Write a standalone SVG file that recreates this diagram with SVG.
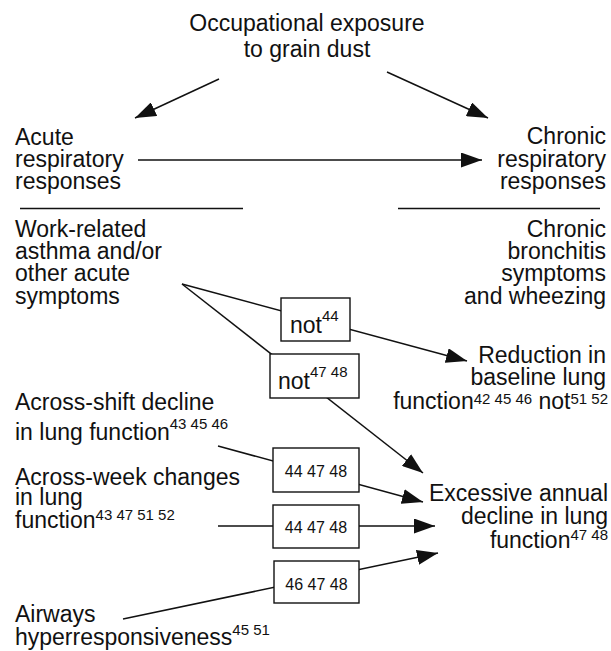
<svg xmlns="http://www.w3.org/2000/svg" width="611" height="651" viewBox="0 0 611 651">
<style>
text{font-family:"Liberation Sans",Arial,sans-serif;font-size:23px;fill:#111}
.r{text-anchor:end}
.c{text-anchor:middle}
.s{font-size:15px}
.n{font-size:16px}
.ln{stroke:#111;stroke-width:1.5;fill:none}
.bx{fill:#fff;stroke:#111;stroke-width:1.4}
.sep{stroke:#111;stroke-width:1.3}
</style>
<defs>
<marker id="ah" markerUnits="userSpaceOnUse" markerWidth="21" markerHeight="15" refX="21" refY="7.5" orient="auto">
<path d="M0,0 L21,7.5 L0,15 z" fill="#111"/>
</marker>
</defs>
<g id="connectors">
<line class="ln" x1="219" y1="79" x2="135" y2="118" marker-end="url(#ah)"/>
<line class="ln" x1="387" y1="72" x2="488" y2="118" marker-end="url(#ah)"/>
<line class="ln" x1="138" y1="160" x2="482" y2="160" marker-end="url(#ah)"/>
<line class="sep" x1="20" y1="208.5" x2="243" y2="208.5"/>
<line class="sep" x1="398" y1="208.5" x2="600" y2="208.5"/>
<line class="ln" x1="182" y1="284" x2="467" y2="361" marker-end="url(#ah)"/>
<line class="ln" x1="182" y1="284" x2="423" y2="473" marker-end="url(#ah)"/>
<line class="ln" x1="218" y1="446" x2="423" y2="502" marker-end="url(#ah)"/>
<line class="ln" x1="218" y1="526" x2="435" y2="526" marker-end="url(#ah)"/>
<line class="ln" x1="123" y1="619" x2="438" y2="553" marker-end="url(#ah)"/>
</g>
<g id="exposure">
<text class="c" x="307" y="31">Occupational exposure</text>
<text class="c" x="307" y="57">to grain dust</text>
</g>
<g id="acute">
<text x="15" y="145">Acute</text>
<text x="15" y="167">respiratory</text>
<text x="15" y="189">responses</text>
</g>
<g id="chronic">
<text class="r" x="606" y="144">Chronic</text>
<text class="r" x="606" y="166.5">respiratory</text>
<text class="r" x="606" y="189">responses</text>
</g>
<g id="work-related">
<text x="15" y="237">Work-related</text>
<text x="15" y="259">asthma and/or</text>
<text x="15" y="281">other acute</text>
<text x="15" y="303.5">symptoms</text>
</g>
<g id="bronchitis">
<text class="r" x="606" y="237">Chronic</text>
<text class="r" x="606" y="259">bronchitis</text>
<text class="r" x="606" y="281">symptoms</text>
<text class="r" x="606" y="303.5">and wheezing</text>
</g>
<g id="box-not44">
<rect class="bx" x="281" y="298" width="69" height="43"/>
<text x="290" y="333">not<tspan class="s" dy="-12">44</tspan></text>
</g>
<g id="box-not4748">
<rect class="bx" x="270" y="354" width="89" height="44"/>
<text x="278" y="389">not<tspan class="s" dy="-12">47 48</tspan></text>
</g>
<g id="reduction">
<text class="r" x="606" y="363">Reduction in</text>
<text class="r" x="606" y="385">baseline lung</text>
<text class="r" x="608" y="409">function<tspan class="s" dy="-5">42 45 46</tspan><tspan dy="5"> not</tspan><tspan class="s" dy="-5">51 52</tspan></text>
</g>
<g id="across-shift">
<text x="15" y="410">Across-shift decline</text>
<text x="15" y="440">in lung function<tspan class="s" dy="-11">43 45 46</tspan></text>
</g>
<g id="across-week">
<text x="15" y="485">Across-week changes</text>
<text x="15" y="505">in lung</text>
<text x="15" y="528">function<tspan class="s" dy="-8">43 47 51 52</tspan></text>
</g>
<g id="airways">
<text x="15" y="622">Airways</text>
<text x="15" y="645">hyperresponsiveness<tspan class="s" dy="-10">45 51</tspan></text>
</g>
<g id="excessive">
<text class="r" x="608" y="501">Excessive annual</text>
<text class="r" x="608" y="524">decline in lung</text>
<text class="r" x="608" y="548">function<tspan class="s" dy="-8">47 48</tspan></text>
</g>
<g id="box1">
<rect class="bx" x="273" y="448" width="86" height="44"/>
<text class="c n" x="316" y="477">44 47 48</text>
</g>
<g id="box2">
<rect class="bx" x="273" y="505" width="86" height="43"/>
<text class="c n" x="316" y="533">44 47 48</text>
</g>
<g id="box3">
<rect class="bx" x="274" y="561" width="85" height="42"/>
<text class="c n" x="316.5" y="590">46 47 48</text>
</g>
</svg>
